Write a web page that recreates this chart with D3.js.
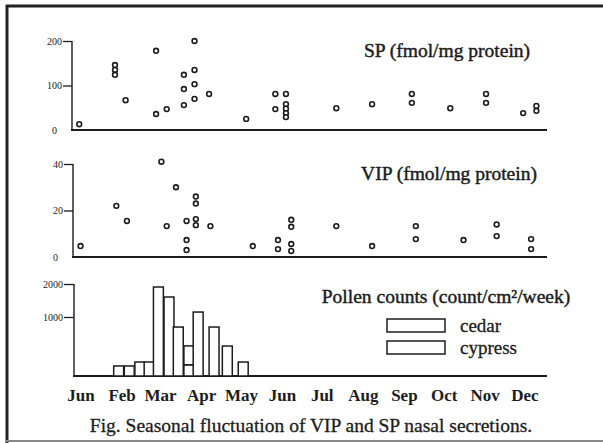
<!DOCTYPE html>
<html>
<head>
<meta charset="UTF-8">
<script src="https://d3js.org/d3.v7.min.js"></script>
<style>
    body { margin: 0; background: #fff; }
    text { font-family: "Liberation Serif", "Times New Roman", serif; fill: #1c1c1c; }
</style>
</head>
<body>
<svg id="chart" width="603" height="443"></svg>
<script>
// month labels as printed (first one reads "Jun" in the original)
const monthLabels = ["Jun", "Feb", "Mar", "Apr", "May", "Jun", "Jul", "Aug", "Sep", "Oct", "Nov", "Dec"];

// SP (fmol/mg protein) - sampling date, value
const spSamples = [
    ["2000-01-14", 13],
    ["2000-02-10", 146], ["2000-02-10", 135], ["2000-02-10", 124],
    ["2000-02-18", 67],
    ["2000-03-12", 178], ["2000-03-12", 36],
    ["2000-03-20", 47],
    ["2000-04-02", 124], ["2000-04-02", 92], ["2000-04-02", 56],
    ["2000-04-10", 200], ["2000-04-10", 135], ["2000-04-10", 103], ["2000-04-10", 70],
    ["2000-04-21", 81],
    ["2000-05-19", 25],
    ["2000-06-10", 81], ["2000-06-10", 47],
    ["2000-06-18", 81], ["2000-06-18", 58], ["2000-06-18", 48], ["2000-06-18", 38], ["2000-06-18", 29],
    ["2000-07-26", 49],
    ["2000-08-22", 58],
    ["2000-09-21", 81], ["2000-09-21", 61],
    ["2000-10-20", 49],
    ["2000-11-16", 81], ["2000-11-16", 61],
    ["2000-12-14", 38],
    ["2000-12-24", 54], ["2000-12-24", 43]
];

// VIP (fmol/mg protein)
const vipSamples = [
    ["2000-01-15", 4.7],
    ["2000-02-11", 22],
    ["2000-02-19", 15.5],
    ["2000-03-16", 41],
    ["2000-03-20", 13.3],
    ["2000-03-27", 30],
    ["2000-04-04", 15.5], ["2000-04-04", 7.3], ["2000-04-04", 3],
    ["2000-04-11", 26], ["2000-04-11", 23], ["2000-04-11", 16.3], ["2000-04-11", 13.7],
    ["2000-04-22", 13.3],
    ["2000-05-24", 4.7],
    ["2000-06-12", 7.3], ["2000-06-12", 3.4],
    ["2000-06-22", 16], ["2000-06-22", 13], ["2000-06-22", 5.6], ["2000-06-22", 2.6],
    ["2000-07-26", 13.3],
    ["2000-08-22", 4.7],
    ["2000-09-24", 13.3], ["2000-09-24", 7.7],
    ["2000-10-30", 7.3],
    ["2000-11-24", 14], ["2000-11-24", 9],
    ["2000-12-20", 7.7], ["2000-12-20", 3.4]
];

// weekly pollen counts (count/cm2/week), week start date
const cedarWeeks = [
    ["2000-02-09", 170], ["2000-02-17", 170], ["2000-02-25", 237], ["2000-03-03", 237],
    ["2000-03-10", 1909], ["2000-03-18", 1606], ["2000-03-25", 830], ["2000-04-02", 190]
];
const cypressWeeks = [
    ["2000-04-02", 320], ["2000-04-09", 1150], ["2000-04-21", 830], ["2000-05-01", 508], ["2000-05-13", 237]
];

const spTicks = [0, 100, 200];
const vipTicks = [0, 20, 40];
const pollenTicks = [1000, 2000];

const parse = d3.timeParse("%Y-%m-%d");
const svg = d3.select("#chart");
const ink = "#1c1c1c";
const axisEnd = 547;

// frame of the scanned figure
svg.append("line").attr("x1", 6).attr("x2", 603).attr("y1", 6).attr("y2", 6)
    .attr("stroke", "#222").attr("stroke-width", 3);
svg.append("line").attr("x1", 7).attr("x2", 7).attr("y1", 5).attr("y2", 443)
    .attr("stroke", "#222").attr("stroke-width", 3);
svg.append("line").attr("x1", 6).attr("x2", 603).attr("y1", 441).attr("y2", 441)
    .attr("stroke", "#888").attr("stroke-width", 2);

const x = d3.scaleTime()
    .domain([new Date(2000, 0, 1), new Date(2001, 0, 1)])
    .range([62, axisEnd]);

const ySP = d3.scaleLinear().domain([0, 200]).range([130, 41]);
const yVIP = d3.scaleLinear().domain([0, 40]).range([257, 164]);
const yPollen = d3.scaleLinear().domain([0, 1000, 2000]).range([376, 317, 284]);

function drawAxis(scale, ticks, left, tickLen) {
    const g = svg.append("g")
        .attr("transform", `translate(${left},0)`)
        .call(d3.axisLeft(scale).tickValues(ticks).tickFormat(d3.format("d"))
            .tickSize(tickLen).tickPadding(1).tickSizeOuter(0));
    g.select(".domain").remove();
    g.selectAll(".tick line").attr("stroke", ink).attr("stroke-width", 1.3);
    g.selectAll(".tick text")
        .style("font-size", "10px")
        .style("font-family", "'Liberation Serif', serif")
        .attr("fill", "#333");
    // zero sits on the baseline, label only
    g.selectAll(".tick").filter(d => d === 0).select("line").remove();
    g.selectAll(".tick").filter(d => d === 0).select("text").attr("x", -15);
    const top = scale(d3.max(ticks));
    const bottom = scale(0);
    svg.append("line").attr("x1", left).attr("x2", left).attr("y1", top).attr("y2", bottom)
        .attr("stroke", ink).attr("stroke-width", 1.4);
    svg.append("line").attr("x1", left - 1).attr("x2", axisEnd).attr("y1", bottom).attr("y2", bottom)
        .attr("stroke", ink).attr("stroke-width", 2);
}

drawAxis(ySP, spTicks, 72, 9);
drawAxis(yVIP, vipTicks, 73, 9);
drawAxis(yPollen, pollenTicks, 74, 10);

function drawPoints(data, yScale) {
    svg.append("g").selectAll("circle")
        .data(data)
        .enter().append("circle")
        .attr("cx", d => x(parse(d[0])))
        .attr("cy", d => yScale(d[1]))
        .attr("r", 2.4)
        .attr("fill", "#fff")
        .attr("stroke", ink)
        .attr("stroke-width", 1.6);
}
drawPoints(spSamples, ySP);
drawPoints(vipSamples, yVIP);

// pollen bars: cypress stacked on cedar when both fall in the same week
const weekMap = new Map();
cedarWeeks.forEach(d => weekMap.set(d[0], { date: d[0], cedar: d[1], cypress: 0 }));
cypressWeeks.forEach(d => {
    const w = weekMap.get(d[0]) || { date: d[0], cedar: 0, cypress: 0 };
    w.cypress = d[1];
    weekMap.set(d[0], w);
});
const segments = [];
weekMap.forEach(w => {
    if (w.cedar > 0) segments.push({ date: w.date, y0: 0, y1: w.cedar });
    if (w.cypress > 0) segments.push({ date: w.date, y0: w.cedar, y1: w.cedar + w.cypress });
});
const barW = d => x(d3.timeHour.offset(parse(d.date), 180)) - x(parse(d.date));

svg.append("g").selectAll("rect")
    .data(segments)
    .enter().append("rect")
    .attr("x", d => x(parse(d.date)))
    .attr("y", d => yPollen(d.y1))
    .attr("width", barW)
    .attr("height", d => yPollen(d.y0) - yPollen(d.y1))
    .attr("fill", "#fff")
    .attr("stroke", ink)
    .attr("stroke-width", 1.5);

// month labels
const xAxis = svg.append("g")
    .attr("transform", "translate(0,384)")
    .call(d3.axisBottom(x)
        .tickValues(monthLabels.map((m, i) => new Date(2000, i, 15)))
        .tickSize(0)
        .tickPadding(0)
        .tickFormat((d, i) => monthLabels[i]));
xAxis.select(".domain").remove();
xAxis.selectAll(".tick text")
    .attr("dy", "1em")
    .style("font-size", "17px")
    .style("font-weight", "bold")
    .style("font-family", "'Liberation Serif', serif")
    .attr("fill", ink);

// panel titles
const titles = [
    { t: "SP (fmol/mg protein)", x: 447, y: 57 },
    { t: "VIP (fmol/mg protein)", x: 449, y: 180 },
    { t: "Pollen counts (count/cm²/week)", x: 446, y: 303 }
];
svg.selectAll(".title")
    .data(titles)
    .enter().append("text")
    .attr("class", "title")
    .attr("x", d => d.x)
    .attr("y", d => d.y)
    .attr("text-anchor", "middle")
    .style("font-size", "19.5px")
    .attr("stroke", ink)
    .attr("stroke-width", 0.45)
    .text(d => d.t);

// legend
const legendItems = ["cedar", "cypress"];
const legend = svg.append("g");
legendItems.forEach((name, i) => {
    legend.append("rect")
        .attr("x", 387).attr("y", 319 + i * 22)
        .attr("width", 58).attr("height", 13)
        .attr("fill", "#fff").attr("stroke", ink).attr("stroke-width", 1.5);
    legend.append("text")
        .attr("x", 460).attr("y", 332 + i * 22)
        .style("font-size", "19px")
        .attr("stroke", ink)
        .attr("stroke-width", 0.3)
        .text(name);
});

svg.append("text")
    .attr("x", 311).attr("y", 432)
    .attr("text-anchor", "middle")
    .style("font-size", "19.5px")
    .attr("stroke", ink)
    .attr("stroke-width", 0.3)
    .text("Fig. Seasonal fluctuation of VIP and SP nasal secretions.");
</script>
</body>
</html>
